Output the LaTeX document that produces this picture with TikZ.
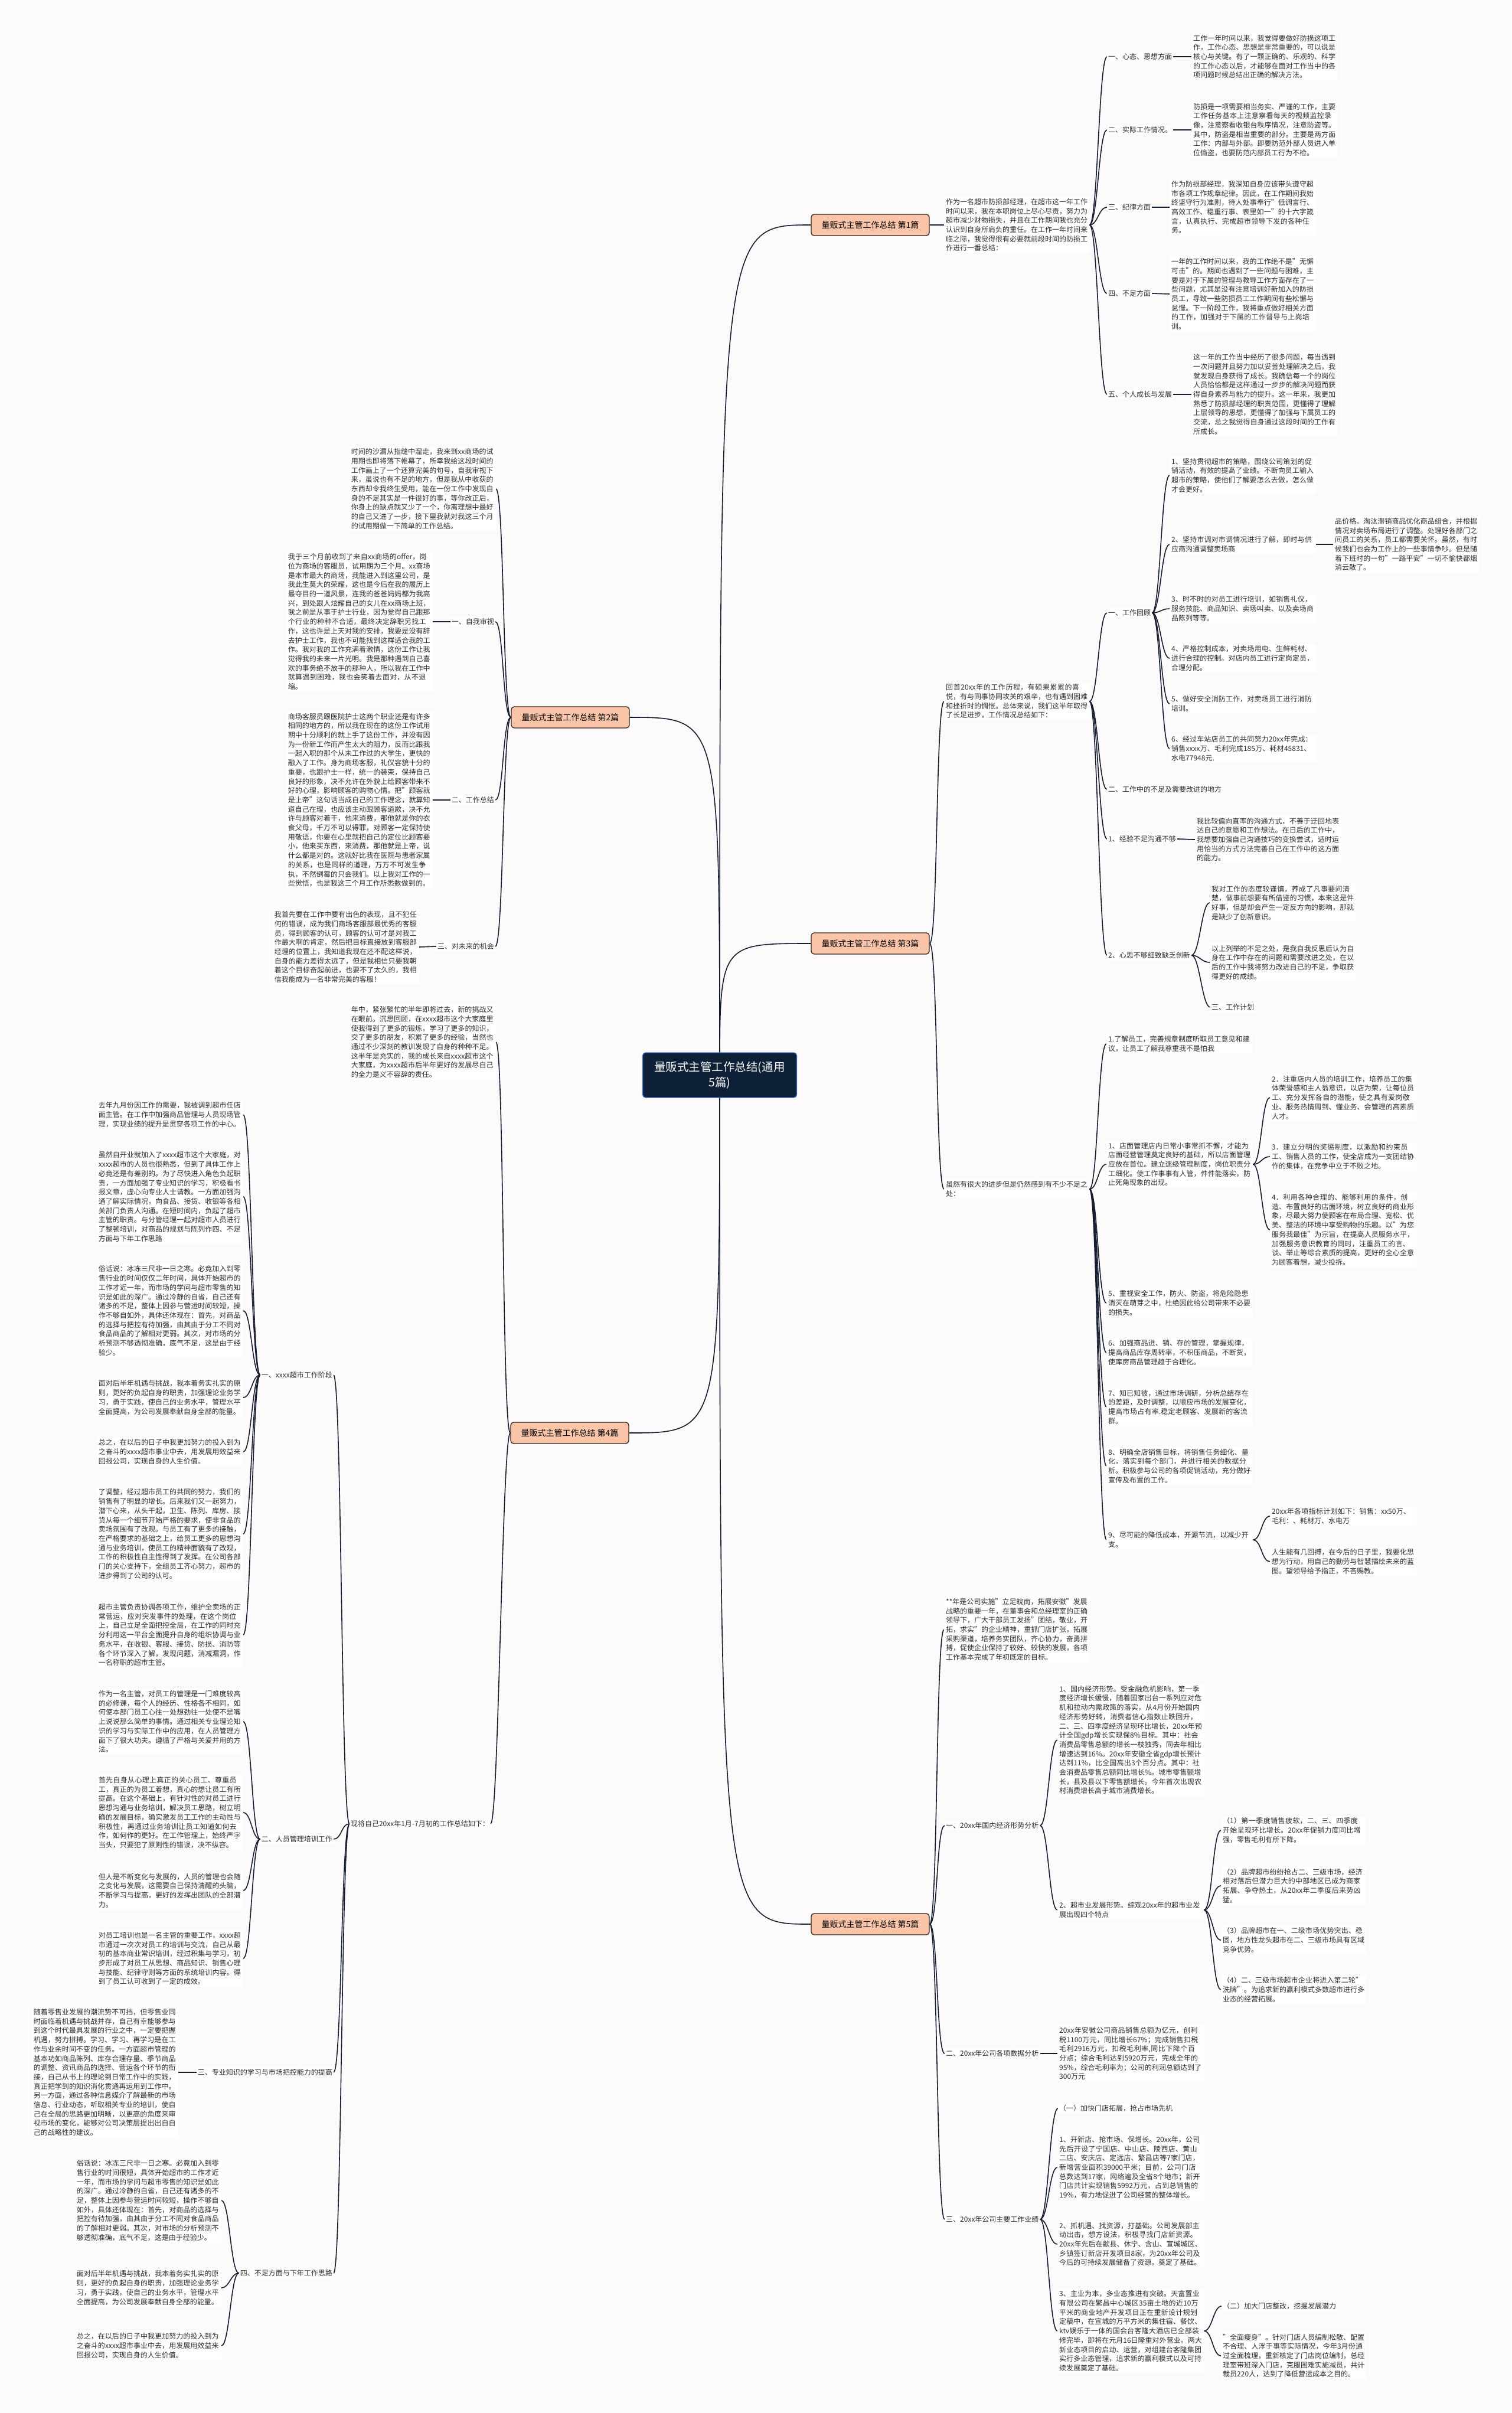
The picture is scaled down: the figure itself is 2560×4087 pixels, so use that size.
\documentclass[tikz,border=0pt]{standalone}
\usepackage{fontspec}
\setmainfont{Noto Sans CJK SC}
\XeTeXlinebreaklocale "zh"
\XeTeXlinebreakskip=0pt plus 1pt
\setlength{\parindent}{0pt}
\definecolor{bgc}{RGB}{252,250,250}
\definecolor{linec}{RGB}{22,28,48}
\definecolor{rootc}{RGB}{14,31,56}
\definecolor{rootb}{RGB}{60,110,200}
\definecolor{brc}{RGB}{250,196,168}
\definecolor{brb}{RGB}{55,35,30}
\definecolor{txtc}{RGB}{45,45,45}
\newcommand\bodyf{\fontsize{12}{15.7}\selectfont}
\newcommand\brf{\fontsize{14}{17}\selectfont}
\newcommand\rootf{\fontsize{19.5}{26}\selectfont}
\newcommand\connR[2]{\draw[conn] (#1.east) .. controls +(14,0) and +(-14,0) .. (#2.west);}
\newcommand\connL[2]{\draw[conn] (#1.west) .. controls +(-14,0) and +(14,0) .. (#2.east);}
\pgfdeclarelayer{bgl}
\pgfdeclarelayer{lnl}
\pgfsetlayers{bgl,lnl,main}
\tikzset{
  txt/.style={fill=white, inner sep=3pt, text width=#1, align=left, font=\bodyf, text=txtc},
  txt/.default=242pt,
  lbl/.style={fill=white, inner sep=2pt, font=\bodyf, text=txtc},
  conn/.style={draw=linec, line width=1.6pt},
  root/.style={fill=rootc, draw=rootb, line width=1.2pt, rounded corners=5pt, text=white, font=\rootf, align=center, minimum width=261pt, minimum height=76pt},
  br/.style={fill=brc, draw=brb, line width=1.3pt, rounded corners=5pt, font=\brf, text=black, minimum width=200pt, minimum height=36pt}
}
\begin{document}
\begin{tikzpicture}[x=1pt,y=-1pt]
\useasboundingbox (0,0) rectangle (2560,4087);
\begin{pgfonlayer}{bgl}
\fill[bgc] (0,0) rectangle (2560,4087);
\end{pgfonlayer}

% root and branches
\node[root] (root) at (1219,1821) {量贩式主管工作总结(通用\\5篇)};
\node[br] (b1) at (1474,381) {量贩式主管工作总结 第1篇};
\node[br] (b2) at (966,1215) {量贩式主管工作总结 第2篇};
\node[br] (b3) at (1474,1598) {量贩式主管工作总结 第3篇};
\node[br] (b4) at (965,2427) {量贩式主管工作总结 第4篇};
\node[br] (b5) at (1474,3259) {量贩式主管工作总结 第5篇};

% ===== 第1篇 =====
\node[txt=240pt, anchor=west] (p1i) at (1599,381) {作为一名超市防损部经理，在超市这一年工作时间以来，我在本职岗位上尽心尽责，努力为超市减少财物损失，并且在工作期间我也充分认识到自身所肩负的重任。在工作一年时间来临之际，我觉得很有必要就前段时间的防损工作进行一番总结：};
\node[lbl, anchor=west] (p1la) at (1875,96) {一、心态、思想方面};
\node[txt, anchor=west] (p1ta) at (2018,96) {工作一年时间以来，我觉得要做好防损这项工作，工作心态、思想是非常重要的，可以说是核心与关键。有了一颗正确的、乐观的、科学的工作心态以后，才能够在面对工作当中的各项问题时候总结出正确的解决方法。};
\node[lbl, anchor=west] (p1lb) at (1875,220) {二、实际工作情况。};
\node[txt, anchor=west] (p1tb) at (2018,220) {防损是一项需要相当务实、严谨的工作，主要工作任务基本上注意察看每天的视频监控录像，注意察看收银台秩序情况，注意防盗等。其中，防盗是相当重要的部分。主要是两方面工作：内部与外部。即要防范外部人员进入单位偷盗，也要防范内部员工行为不检。};
\node[lbl, anchor=west] (p1lc) at (1875,351) {三、纪律方面};
\node[txt, anchor=west] (p1tc) at (1981,351) {作为防损部经理，我深知自身应该带头遵守超市各项工作规章纪律。因此，在工作期间我始终坚守行为准则，待人处事奉行"低调言行、高效工作、稳重行事、表里如一"的十六字箴言，认真执行、完成超市领导下发的各种任务。};
\node[lbl, anchor=west] (p1ld) at (1875,497) {四、不足方面};
\node[txt, anchor=west] (p1td) at (1981,498) {一年的工作时间以来，我的工作绝不是"无懈可击"的。期间也遇到了一些问题与困难，主要是对于下属的管理与教导工作方面存在了一些问题，尤其是没有注意培训好新加入的防损员工，导致一些防损员工工作期间有些松懈与怠慢。下一阶段工作，我将重点做好相关方面的工作，加强对于下属的工作督导与上岗培训。};
\node[lbl, anchor=west] (p1le) at (1875,668) {五、个人成长与发展};
\node[txt, anchor=west] (p1te) at (2018,668) {这一年的工作当中经历了很多问题，每当遇到一次问题并且努力加以妥善处理解决之后，我就发现自身获得了成长。我确信每一个的岗位人员恰恰都是这样通过一步步的解决问题而获得自身素养与能力的提升。这一年来，我更加熟悉了防损部经理的职责范围，更懂得了理解上层领导的思想，更懂得了加强与下属员工的交流，总之我觉得自身通过这段时间的工作有所成长。};

% ===== 第3篇 =====
\node[txt=240pt, anchor=west] (p3i) at (1599,1188) {回首20xx年的工作历程，有硕果累累的喜悦，有与同事协同攻关的艰辛，也有遇到困难和挫折时的惆怅。总体来说，我们这半年取得了长足进步，工作情况总结如下：};
\node[lbl, anchor=west] (p3la) at (1875,1038) {一、工作回顾};
\node[txt, anchor=west] (p3a1) at (1981,805) {1、坚持贯彻超市的策略，围绕公司策划的促销活动，有效的提高了业绩。不断向员工输入超市的策略，使他们了解要怎么去做，怎么做才会更好。};
\node[txt, anchor=west] (p3a2) at (1981,922) {2、坚持市调对市调情况进行了解，即时与供应商沟通调整卖场商};
\node[txt, anchor=west] (p3a2c) at (2258,922) {品价格。淘汰滞销商品优化商品组合，并根据情况对卖场布局进行了调整。处理好各部门之间员工的关系，员工都需要关怀。虽然，有时候我们也会为工作上的一些事情争吵。但是随着下班时的一句"一路平安"一切不愉快都烟消云散了。};
\node[txt, anchor=west] (p3a3) at (1981,1031) {3、时不时的对员工进行培训，如销售礼仪，服务技能、商品知识、卖场叫卖、以及卖场商品陈列等等。};
\node[txt, anchor=west] (p3a4) at (1981,1115) {4、严格控制成本，对卖场用电、生鲜耗材、进行合理的控制。对店内员工进行定岗定员，合理分配。};
\node[txt, anchor=west] (p3a5) at (1981,1192) {5、做好安全消防工作，对卖场员工进行消防培训。};
\node[txt, anchor=west] (p3a6) at (1981,1268) {6、经过车站店员工的共同努力20xx年完成：销售xxxx万、毛利完成185万、耗材45831、水电77948元.};
\node[lbl, anchor=west] (p3lb) at (1875,1337) {二、工作中的不足及需要改进的地方};
\node[lbl, anchor=west] (p3lc) at (1875,1421) {1、经验不足沟通不够};
\node[txt, anchor=west] (p3tc) at (2024,1422) {我比较偏向直率的沟通方式，不善于迂回地表达自己的意愿和工作想法。在日后的工作中，我想要加强自己沟通技巧的变换尝试，适时运用恰当的方式方法完善自己在工作中的这方面的能力。};
\node[lbl, anchor=west] (p3ld) at (1875,1618) {2、心思不够细致缺乏创新};
\node[txt, anchor=west] (p3d1) at (2049,1529) {我对工作的态度较谨慎，养成了凡事要问清楚，做事前想要有所借鉴的习惯，本来这是件好事，但是却会产生一定反方向的影响，那就是缺少了创新意识。};
\node[txt, anchor=west] (p3d2) at (2049,1630) {以上列举的不足之处，是我自我反思后认为自身在工作中存在的问题和需要改进之处，在以后的工作中我将努力改进自己的不足，争取获得更好的成绩。};
\node[lbl, anchor=west] (p3d3) at (2050,1706) {三、工作计划};
\node[txt=240pt, anchor=west] (p3n) at (1599,2014) {虽然有很大的进步但是仍然感到有不少不足之处：};
\node[txt, anchor=west] (p3n1) at (1874,1768) {1.了解员工，完善规章制度听取员工意见和建议，让员工了解我尊重我不是怕我};
\node[txt, anchor=west] (p3n2) at (1874,1972) {1、店面管理店内日常小事常抓不懈，才能为店面经营管理奠定良好的基础，所以店面管理应放在首位。建立逐级管理制度，岗位职责分工细化。使工作事事有人管，件件能落实，防止死角现象的出现。};
\node[txt, anchor=west] (p3n2a) at (2151,1859) {2．注重店内人员的培训工作，培养员工的集体荣誉感和主人翁意识，以店为荣，让每位员工、充分发挥各自的潜能，使之具有爱岗敬业、服务热情周到、懂业务、会管理的高素质人才。};
\node[txt, anchor=west] (p3n2b) at (2151,1959) {3．建立分明的奖惩制度，以激励和约束员工、销售人员的工作，使全店成为一支团结协作的集体，在竞争中立于不败之地。};
\node[txt, anchor=west] (p3n2c) at (2151,2083) {4．利用各种合理的、能够利用的条件，创造、布置良好的店面环境，树立良好的商业形象，尽最大努力使顾客在布局合理、宽松、优美、整洁的环境中享受购物的乐趣。以"为您服务我最佳"为宗旨，在提高人员服务水平，加强服务意识教育的同时，注重员工的言、谈、举止等综合素质的提高，更好的全心全意为顾客着想，减少投拆。};
\node[txt, anchor=west] (p3n5) at (1874,2207) {5、重视安全工作，防火、防盗，将危险隐患消灭在萌芽之中，杜绝因此给公司带来不必要的损失。};
\node[txt, anchor=west] (p3n6) at (1874,2291) {6、加强商品进、销、存的管理，掌握规律，提高商品库存周转率，不积压商品，不断货，使库房商品管理趋于合理化。};
\node[txt, anchor=west] (p3n7) at (1874,2383) {7、知已知彼，通过市场调研，分析总结存在的差距，及时调整，以顺应市场的发展变化，提高市场占有率.稳定老顾客、发展新的客流群。};
\node[txt, anchor=west] (p3n8) at (1874,2483) {8、明确全店销售目标，将销售任务细化、量化，落实到每个部门，并进行相关的数据分析。积极参与公司的各项促销活动，充分做好宣传及布置的工作。};
\node[txt, anchor=west] (p3n9) at (1874,2608) {9、尽可能的降低成本，开源节流，以减少开支。};
\node[txt, anchor=west] (p3n9a) at (2151,2568) {20xx年各项指标计划如下：销售：xx50万、毛利：、耗材万、水电万};
\node[txt, anchor=west] (p3n9b) at (2151,2645) {人生能有几回搏，在今后的日子里，我要化思想为行动，用自己的勤劳与智慧描绘未来的蓝图。望领导给予指正，不吝赐教。};

% ===== 第5篇 =====
\node[txt=240pt, anchor=west] (p5i) at (1599,2760) {**年是公司实施"立足皖南，拓展安徽"发展战略的重要一年，在董事会和总经理室的正确领导下，广大干部员工发扬"团结，敬业，开拓，求实"的企业精神，重抓门店扩张，拓展采购渠道，培养务实团队，齐心协力，奋勇拼搏，促使企业保持了较好、较快的发展，各项工作基本完成了年初既定的目标。};
\node[lbl, anchor=west] (p5la) at (1600,3092) {一、20xx年国内经济形势分析};
\node[txt, anchor=west] (p5e1) at (1791,2947) {1、国内经济形势。受金融危机影响，第一季度经济增长缓慢，随着国家出台一系列应对危机和拉动内需政策的落实，从4月份开始国内经济形势好转，消费者信心指数止跌回升，二、三、四季度经济呈现环比增长，20xx年预计全国gdp增长实现保8\%目标。其中：社会消费品零售总额的增长一枝独秀，同去年相比增速达到16\%。20xx年安徽全省gdp增长预计达到11\%，比全国高出3个百分点。其中：社会消费品零售总额同比增长\%。城市零售额增长，县及县以下零售额增长。今年首次出现农村消费增长高于城市消费增长。};
\node[txt, anchor=west] (p5e2) at (1791,3235) {2、超市业发展形势。综观20xx年的超市业发展出现四个特点};
\node[txt=240pt, anchor=west] (p5e2a) at (2068,3100) {（1）第一季度销售疲软，二、三、四季度开始呈现环比增长。20xx年促销力度同比增强，零售毛利有所下降。};
\node[txt=240pt, anchor=west] (p5e2b) at (2068,3194) {（2）品牌超市纷纷抢占二、三级市场，经济相对落后但潜力巨大的中部地区已成为商家拓展、争夺热土，从20xx年二季度后来势凶猛。};
\node[txt=240pt, anchor=west] (p5e2c) at (2068,3286) {（3）品牌超市在一、二级市场优势突出、稳固，地方性龙头超市在二、三级市场具有区域竞争优势。};
\node[txt=240pt, anchor=west] (p5e2d) at (2068,3370) {（4）二、三级市场超市企业将进入第二轮"洗牌"。为追求新的赢利模式多数超市进行多业态的经营拓展。};
\node[lbl, anchor=west] (p5lb) at (1600,3478) {二、20xx年公司各项数据分析};
\node[txt, anchor=west] (p5da) at (1791,3478) {20xx年安徽公司商品销售总额为亿元，创利税1100万元，同比增长67\%；完成销售扣税毛利2916万元，扣税毛利率,同比下降个百分点；综合毛利达到5920万元，完成全年的95\%，综合毛利率为；公司的利润总额达到了300万元};
\node[lbl, anchor=west] (p5lc) at (1600,3759) {三、20xx年公司主要工作业绩};
\node[lbl, anchor=west] (p5w0) at (1792,3571) {（一）加快门店拓展，抢占市场先机};
\node[txt, anchor=west] (p5w1) at (1791,3671) {1、开新店、抢市场、保增长。20xx年，公司先后开设了宁国店、中山店、陵西店、黄山二店、安庆店、定远店、繁昌店等7家门店，新增营业面积39000平米；目前，公司门店总数达到17家，网络遍及全省8个地市；新开门店共计实现销售5992万元，占到总销售的19\%，有力地促进了公司经营的整体增长。};
\node[txt, anchor=west] (p5w2) at (1791,3801) {2、抓机遇、找资源，打基础。公司发展部主动出击，想方设法，积极寻找门店新资源。20xx年先后在歙县、休宁、含山、宣城城区、乡镇签订新店开发项目8家，为20xx年公司及今后的可持续发展储备了资源，奠定了基础。};
\node[txt, anchor=west] (p5w3) at (1791,3948) {3、主业为本，多业态推进有突破。天富置业有限公司在繁昌中心城区35亩土地的近10万平米的商业地产开发项目正在重新设计规划定稿中，在宣城的万平方米的集住宿、餐饮、ktv娱乐于一体的国会台客隆大酒店已全部装修完毕，即将在元月16日隆重对外营业。两大新业态项目的启动、运营，对组建台客隆集团实行多业态管理，追求新的赢利模式以及可持续发展奠定了基础。};
\node[lbl, anchor=west] (p5w3a) at (2069,3906) {（二）加大门店整改，挖掘发展潜力};
\node[txt=240pt, anchor=west] (p5w3b) at (2068,3990) {"全面瘦身"。针对门店人员编制松散、配置不合理、人浮于事等实际情况，今年3月份通过全面梳理，重新核定了门店岗位编制，总经理室带班深入门店，克服困难实施减员，共计裁员220人，达到了降低营运成本之目的。};

% ===== 第2篇 =====
\node[txt, anchor=east] (p2i) at (840,828) {时间的沙漏从指缝中溜走，我来到xx商场的试用期也即将落下帷幕了，所幸我给这段时间的工作画上了一个还算完美的句号，自我审视下来，虽说也有不足的地方，但是我从中收获的东西却令我终生受用，能在一份工作中发现自身的不足其实是一件很好的事，等你改正后，你身上的缺点就又少了一个，你离理想中最好的自己又进了一步，接下里我就对我这三个月的试用期做一下简单的工作总结。};
\node[lbl, anchor=east] (p2la) at (839,1053) {一、自我审视};
\node[txt, anchor=east] (p2ta) at (733,1053) {我于三个月前收到了来自xx商场的offer，岗位为商场的客服员，试用期为三个月。xx商场是本市最大的商场，我能进入到这里公司，是我此生莫大的荣耀，这也是今后在我的履历上最夺目的一道风景，连我的爸爸妈妈都为我高兴，到处跟人炫耀自己的女儿在xx商场上班，我之前是从事于护士行业，因为觉得自己跟那个行业的种种不合适，最终决定辞职另找工作，这也许是上天对我的安排，我要是没有辞去护士工作，我也不可能找到这样适合我的工作。我对我的工作充满着激情，这份工作让我觉得我的未来一片光明。我是那种遇到自己喜欢的事务绝不放手的那种人，所以我在工作中就算遇到困难，我也会笑着去面对，从不退缩。};
\node[lbl, anchor=east] (p2lb) at (839,1355) {二、工作总结};
\node[txt, anchor=east] (p2tb) at (733,1355) {商场客服员跟医院护士这两个职业还是有许多相同的地方的，所以我在现在的这份工作试用期中十分顺利的就上手了这份工作，并没有因为一份新工作而产生太大的阻力，反而比跟我一起入职的那个从未工作过的大学生，更快的融入了工作。身为商场客服，礼仪容貌十分的重要，也跟护士一样，统一的装束，保持自己良好的形象，决不允许在外貌上给顾客带来不好的心理，影响顾客的购物心情。把"顾客就是上帝"这句话当成自己的工作理念，就算知道自己在理，也应该主动跟顾客道歉，决不允许与顾客对着干，他来消费，那他就是你的衣食父母，千万不可以得罪，对顾客一定保持使用敬语，你要在心里就把自己的定位比顾客要小，他来买东西，来消费，那他就是上帝，说什么都是对的。这就好比我在医院与患者家属的关系，也是同样的道理，万万不可发生争执，不然倒霉的只会我们。以上我对工作的一些觉悟，也是我这三个月工作所悉数做到的。};
\node[lbl, anchor=east] (p2lc) at (839,1603) {三、对未来的机会};
\node[txt, anchor=east] (p2tc) at (710,1604) {我首先要在工作中要有出色的表现，且不犯任何的错误，成为我们商场客服部最优秀的客服员，得到顾客的认可，顾客的认可才是对我工作最大啊的肯定，然后把目标直接放到客服部经理的位置上，我知道我现在还不配这样说，自身的能力差得太远了，但是我相信只要我朝着这个目标奋起前进，也要不了太久的，我相信我能成为一名非常完美的客服！};

% ===== 第4篇 =====
\node[txt, anchor=east] (p4i) at (840,1765) {年中，紧张繁忙的半年即将过去，新的挑战又在眼前。沉思回顾，在xxxx超市这个大家庭里使我得到了更多的锻炼，学习了更多的知识，交了更多的朋友，积累了更多的经验，当然也通过不少深刻的教训发现了自身的种种不足。这半年是充实的，我的成长来自xxxx超市这个大家庭，为xxxx超市后半年更好的发展尽自己的全力是义不容辞的责任。};
\node[lbl, anchor=east] (p4n) at (831,3089) {现将自己20xx年1月-7月初的工作总结如下：};
\node[lbl, anchor=east] (p4s1) at (565,2329) {一、xxxx超市工作阶段};
\node[txt, anchor=east] (p4a1) at (412,1888) {去年九月份因工作的需要，我被调到超市任店面主管。在工作中加强商品管理与人员现场管理，实现业绩的提升是贯穿各项工作的中心。};
\node[txt, anchor=east] (p4a2) at (412,2027) {虽然自开业就加入了xxxx超市这个大家庭，对xxxx超市的人员也很熟悉，但到了具体工作上必竟还是有差别的。为了尽快进入角色负起职责，一方面加强了专业知识的学习，积极看书报文章，虚心向专业人士请教。一方面加强沟通了解实际情况，向食品、接货、收银等各相关部门负责人沟通。在短时间内，负起了超市主管的职责。与分管经理一起对超市人员进行了整顿培训，对商品的规划与陈列作四、不足方面与下年工作思路};
\node[txt, anchor=east] (p4a3) at (412,2220) {俗话说：冰冻三尺非一日之寒。必竟加入到零售行业的时间仅仅二年时间，具体开始超市的工作才近一年，而市场的学问与超市零售的知识是如此的深广。通过冷静的自省，自己还有诸多的不足，整体上因参与营运时间较短，操作不够自如外，具体还体现在：首先，对商品的选择与把控有待加强，由其由于分工不同对食品商品的了解相对更弱。其次，对市场的分析预测不够透彻准确，底气不足，这是由于经验少。};
\node[txt, anchor=east] (p4a4) at (412,2367) {面对后半年机遇与挑战，我本着务实扎实的原则，更好的负起自身的职责，加强理论业务学习，勇于实践，使自己的业务水平，管理水平全面提高，为公司发展奉献自身全部的能量。};
\node[txt, anchor=east] (p4a5) at (412,2459) {总之，在以后的日子中我更加努力的投入到为之奋斗的xxxx超市事业中去，用发展用效益来回报公司，实现自身的人生价值。};
\node[txt, anchor=east] (p4a6) at (412,2598) {了调整，经过超市员工的共同的努力，我们的销售有了明显的增长。后来我们又一起努力，潜下心来，从头干起，卫生、陈列、库房、接货从每一个细节开始严格的要求，使非食品的卖场氛围有了改观。与员工有了更多的接触，在严格要求的基础之上，给员工更多的思想沟通与业务培训，使员工的精神面貌有了改观，工作的积极性自主性得到了发挥。在公司各部门的关心支持下，全组员工齐心努力，超市的进步得到了公司的认可。};
\node[txt, anchor=east] (p4a7) at (412,2769) {超市主管负责协调各项工作，维护全卖场的正常营运，应对突发事件的处理，在这个岗位上，自己立足全面把控全局，在工作的同时充分利用这一平台全面提升自身的组织协调与业务水平，在收银、客服、接货、防损、消防等各个环节深入了解，发现问题，消减漏洞，作一名称职的超市主管。};
\node[lbl, anchor=east] (p4s2) at (565,3115) {二、人员管理培训工作};
\node[txt, anchor=east] (p4b1) at (412,2916) {作为一名主管，对员工的管理是一门难度较高的必修课，每个人的经历、性格各不相同，如何使本部门员工心往一处想劲往一处使不是嘴上说说那么简单的事情。通过相关专业理论知识的学习与实际工作中的应用，在人员管理方面下了很大功夫。遵循了严格与关爱并用的方法。};
\node[txt, anchor=east] (p4b2) at (412,3070) {首先自身从心理上真正的关心员工、尊重员工，真正的为员工着想，真心的想让员工有所提高。在这个基础上，有针对性的对员工进行思想沟通与业务培训，解决员工思路，树立明确的发展目标，确实激发员工工作的主动性与积极性，再通过业务培训让员工知道如何去作，如何作的更好。在工作管理上，始终严字当头，只要犯了原则性的错误，决不纵容。};
\node[txt, anchor=east] (p4b3) at (412,3202) {但人是不断变化与发展的，人员的管理也会随之变化与发展，这需要自己保持清醒的头脑，不断学习与提高，更好的发挥出团队的全部潜力。};
\node[txt, anchor=east] (p4b4) at (412,3317) {对员工培训也是一名主管的重要工作，xxxx超市通过一次次对员工的培训与交流，自己从最初的基本商业常识培训，经过积集与学习，初步形成了对员工从思想、商品知识、销售心理与技能、纪律守则等方面的系统培训内容。得到了员工认可收到了一定的成效。};
\node[lbl, anchor=east] (p4s3) at (565,3510) {三、专业知识的学习与市场把控能力的提高};
\node[txt, anchor=east] (p4c1) at (302,3510) {随着零售业发展的潮流势不可挡，但零售业同时面临着机遇与挑战并存，自己有幸能够参与到这个时代最具发展的行业之中，一定要把握机遇，努力拼搏。学习、学习、再学习是在工作与业余时间不变的任务。一方面超市管理的基本功如商品陈列、库存合理存量、季节商品的调整、资讯商品的选择、营运各个环节的衔接，自己从书上的理论到日常工作中的实践，真正把学到的知识消化贯通再运用到工作中。另一方面，通过各种信息媒介了解最新的市场信息、行业动态，听取相关专业的培训，使自己在全局的思路更加明晰，以更高的角度来审视市场的变化，能够对公司决策层提出出自自己的战略性的建议。};
\node[lbl, anchor=east] (p4s4) at (565,3850) {四、不足方面与下年工作思路};
\node[txt, anchor=east] (p4d1) at (375,3727) {俗话说：冰冻三尺非一日之寒。必竟加入到零售行业的时间很短，具体开始超市的工作才近一年，而市场的学问与超市零售的知识是如此的深广。通过冷静的自省，自己还有诸多的不足，整体上因参与营运时间较短，操作不够自如外，具体还体现在：首先，对商品的选择与把控有待加强，由其由于分工不同对食品商品的了解相对更弱。其次，对市场的分析预测不够透彻准确，底气不足，这是由于经验少。};
\node[txt, anchor=east] (p4d2) at (375,3875) {面对后半年机遇与挑战，我本着务实扎实的原则，更好的负起自身的职责，加强理论业务学习，勇于实践，使自己的业务水平，管理水平全面提高，为公司发展奉献自身全部的能量。};
\node[txt, anchor=east] (p4d3) at (375,3973) {总之，在以后的日子中我更加努力的投入到为之奋斗的xxxx超市事业中去，用发展用效益来回报公司，实现自身的人生价值。};

% ===== connectors =====
\begin{pgfonlayer}{lnl}
\draw[conn] (root.center) .. controls (root.center |- b1.west) .. (b1.west);
\draw[conn] (root.center) .. controls (root.center |- b3.west) .. (b3.west);
\draw[conn] (root.center) .. controls (root.center |- b5.west) .. (b5.west);
\draw[conn] (root.center) .. controls (root.center |- b2.east) .. (b2.east);
\draw[conn] (root.center) .. controls (root.center |- b4.east) .. (b4.east);
% 1
\connR{b1}{p1i}
\connR{p1i}{p1la}\connR{p1i}{p1lb}\connR{p1i}{p1lc}\connR{p1i}{p1ld}\connR{p1i}{p1le}
\connR{p1la}{p1ta}\connR{p1lb}{p1tb}\connR{p1lc}{p1tc}\connR{p1ld}{p1td}\connR{p1le}{p1te}
% 3
\connR{b3}{p3i}\connR{b3}{p3n}
\connR{p3i}{p3la}\connR{p3i}{p3lb}\connR{p3i}{p3lc}\connR{p3i}{p3ld}
\connR{p3la}{p3a1}\connR{p3la}{p3a2}\connR{p3la}{p3a3}\connR{p3la}{p3a4}\connR{p3la}{p3a5}\connR{p3la}{p3a6}
\connR{p3a2}{p3a2c}
\connR{p3lc}{p3tc}
\connR{p3ld}{p3d1}\connR{p3ld}{p3d2}\connR{p3ld}{p3d3}
\connR{p3n}{p3n1}\connR{p3n}{p3n2}\connR{p3n}{p3n5}\connR{p3n}{p3n6}\connR{p3n}{p3n7}\connR{p3n}{p3n8}\connR{p3n}{p3n9}
\connR{p3n2}{p3n2a}\connR{p3n2}{p3n2b}\connR{p3n2}{p3n2c}
\connR{p3n9}{p3n9a}\connR{p3n9}{p3n9b}
% 5
\connR{b5}{p5i}\connR{b5}{p5la}\connR{b5}{p5lb}\connR{b5}{p5lc}
\connR{p5la}{p5e1}\connR{p5la}{p5e2}
\connR{p5e2}{p5e2a}\connR{p5e2}{p5e2b}\connR{p5e2}{p5e2c}\connR{p5e2}{p5e2d}
\connR{p5lb}{p5da}
\connR{p5lc}{p5w0}\connR{p5lc}{p5w1}\connR{p5lc}{p5w2}\connR{p5lc}{p5w3}
\connR{p5w3}{p5w3a}\connR{p5w3}{p5w3b}
% 2
\connL{b2}{p2i}\connL{b2}{p2la}\connL{b2}{p2lb}\connL{b2}{p2lc}
\connL{p2la}{p2ta}\connL{p2lb}{p2tb}\connL{p2lc}{p2tc}
% 4
\connL{b4}{p4i}\connL{b4}{p4n}
\connL{p4n}{p4s1}\connL{p4n}{p4s2}\connL{p4n}{p4s3}\connL{p4n}{p4s4}
\connL{p4s1}{p4a1}\connL{p4s1}{p4a2}\connL{p4s1}{p4a3}\connL{p4s1}{p4a4}\connL{p4s1}{p4a5}\connL{p4s1}{p4a6}\connL{p4s1}{p4a7}
\connL{p4s2}{p4b1}\connL{p4s2}{p4b2}\connL{p4s2}{p4b3}\connL{p4s2}{p4b4}
\connL{p4s3}{p4c1}
\connL{p4s4}{p4d1}\connL{p4s4}{p4d2}\connL{p4s4}{p4d3}
\end{pgfonlayer}
\end{tikzpicture}
\end{document}
